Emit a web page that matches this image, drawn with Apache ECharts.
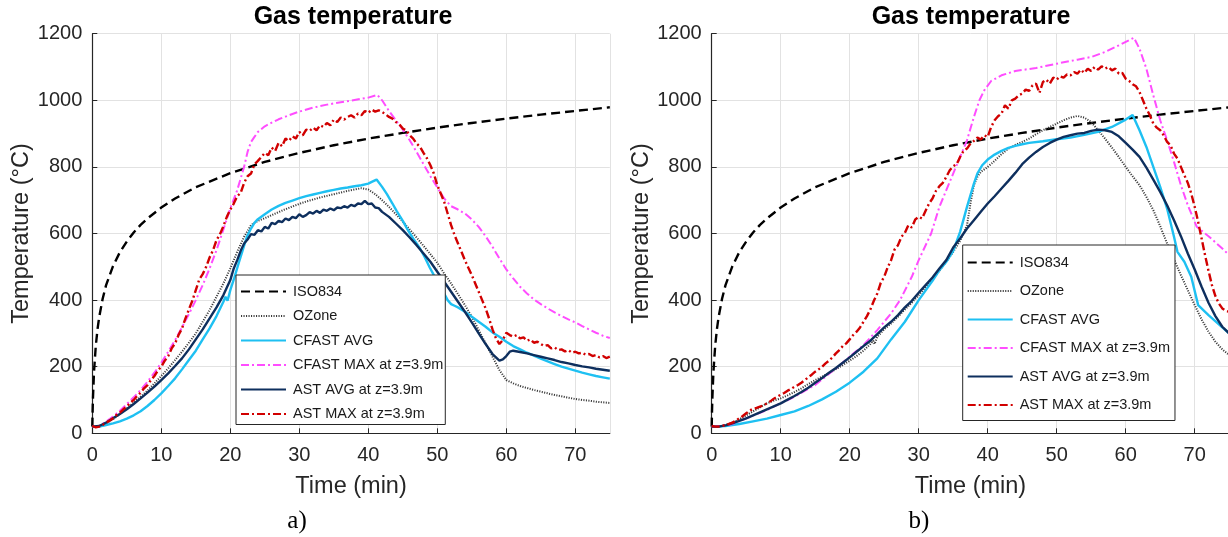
<!DOCTYPE html>
<html><head><meta charset="utf-8">
<script src="https://cdn.jsdelivr.net/npm/echarts@6/dist/echarts.min.js"></script>
<style>html,body{margin:0;padding:0;background:#fff}#c{width:1228px;height:537px}</style>
</head><body><div id="c"></div>
<script>
// ---------- data (time in min, temperature in °C) ----------
const seriesNames = ['ISO834','OZone','CFAST AVG','CFAST MAX at z=3.9m','AST AVG at z=3.9m','AST MAX at z=3.9m'];
const xTicks = [0,10,20,30,40,50,60,70];
const yTicks = [0,200,400,600,800,1000,1200];
const xMax = 75;

const iso834 = [[0,20],[0.05,70],[0.1,108],[0.25,185],[0.5,261],[0.75,312],[1,349],[1.5,404],[2,445],[3,502],[4,544],[5,576],[6,603],[7,626],[8,645],[10,678],[12,705],[15,739],[20,781],[25,815],[30,842],[35,865],[40,885],[45,902],[50,918],[55,932],[60,945],[65,957],[70,968],[75,979]];

// ----- plot a) -----
const a_ozone = [[0,20],[1,22],[2,30],[3,42],[4,58],[5,75],[6,92],[7,110],[8,128],[9,150],[10,172],[11,195],[12,220],[13,245],[14,272],[15,300],[16,335],[17,370],[18,410],[19,450],[20,495],[21,545],[22,590],[23,625],[23.5,632],[24,638],[25,646],[26,655],[27,664],[28,673],[29,681],[30,689],[31,696],[32,702],[33,708],[34,713],[35,718],[36,723],[37,728],[38,732],[39,736],[40,732],[41,718],[42,700],[43,680],[44,658],[45,636],[46,612],[47,588],[48,563],[49,538],[50,512],[51,480],[52,450],[53,418],[54,385],[55,350],[56,310],[57,270],[58,230],[59,190],[60,160],[61,150],[62,142],[63,136],[64,130],[65,125],[66,120],[67,115],[68,111],[69,107],[70,103],[71,100],[72,98],[73,95],[74,93],[75,91]];
const a_cfastAvg = [[0,20],[1,20],[2,25],[3,30],[4,36],[5,44],[6,54],[7,66],[8,82],[9,100],[10,120],[11,142],[12,165],[13,192],[14,220],[15,248],[16,282],[17,315],[18,352],[19,395],[19.3,410],[19.6,398],[20,430],[20.6,468],[21.2,510],[21.8,550],[22.4,590],[23,615],[23.5,632],[24,643],[25,658],[26,672],[27,683],[28,692],[29,699],[30,706],[31,712],[32,717],[33,722],[34,727],[35,731],[36,735],[37,738],[38,742],[39,745],[40,750],[40.5,755],[41.2,762],[42,740],[42.7,718],[43.5,690],[44.1,668],[45,638],[45.6,615],[46.5,585],[47.5,555],[48.2,528],[48.9,498],[49.5,475],[50,462],[50.5,440],[51,420],[51.5,400],[52,388],[52.5,383],[53,378],[54,365],[55,350],[56,335],[57,320],[58,303],[59,290],[60,275],[61,262],[62,252],[63,242],[64,233],[65,224],[66,216],[67,208],[68,200],[69,194],[70,188],[71,182],[72,177],[73,172],[74,168],[75,164]];
const a_cfastMax = [[0,20],[1,22],[2,35],[3,50],[4,68],[5,88],[6,108],[7,130],[8,155],[9,182],[10,212],[11,245],[12,280],[13,318],[14,358],[15,400],[16,445],[17,495],[18,550],[19,612],[20,675],[21,730],[22,800],[22.5,845],[23,875],[23.5,890],[24,905],[25,922],[26,933],[27,943],[28,951],[29,959],[30,966],[32,978],[34,987],[36,994],[38,1001],[40,1008],[41.3,1016],[42,1000],[43,968],[44,940],[45,912],[46,880],[47,845],[48,808],[49,772],[50,738],[51,705],[52,682],[53,672],[54,660],[55,642],[56,620],[57,592],[58,560],[59,525],[60,492],[61,465],[62,440],[63,420],[64,402],[65,388],[66,375],[67,363],[68,352],[69,342],[70,333],[71,322],[72,312],[73,302],[74,293],[75,286]];
const a_astAvg = [[0,20],[1,22],[2,32],[3,45],[4,58],[5,72],[6,88],[7,105],[8,122],[9,140],[10,160],[11,180],[12,202],[13,225],[14,252],[15,282],[16,312],[17,345],[18,378],[19,415],[20,460],[20.5,495],[21,520],[21.5,548],[22,570],[22.5,582],[23,598],[23.5,596],[24,610],[24.5,606],[25,620],[25.5,615],[26,632],[26.5,628],[27,638],[27.5,634],[28,645],[28.5,640],[29,650],[29.5,646],[30,658],[30.5,650],[31,655],[31.5,664],[32,660],[32.5,668],[33,662],[33.5,672],[34,668],[34.5,675],[35,670],[35.5,678],[36,676],[36.5,682],[37,678],[37.5,686],[38,682],[38.5,690],[39,688],[39.5,698],[40,688],[40.5,690],[41,678],[41.5,676],[42,665],[43,650],[44,630],[45,610],[46,588],[47,565],[48,540],[49,515],[50,485],[51,455],[52,425],[53,395],[54,365],[55,333],[56,300],[57,268],[58,238],[59,218],[59.5,222],[60,232],[60.5,245],[61,248],[62,244],[63,240],[64,235],[65,230],[66,225],[67,220],[68,214],[69,210],[70,205],[71,201],[72,198],[73,194],[74,191],[75,188]];
const a_astMax = [[0,22],[0.5,18],[1,20],[1.5,25],[2,32],[2.5,38],[3,45],[3.5,55],[4,62],[4.5,72],[5,80],[5.5,92],[6,100],[6.5,112],[7,122],[7.5,135],[8,145],[8.5,160],[9,172],[9.5,188],[10,200],[10.5,218],[11,232],[11.5,255],[12,270],[12.5,295],[13,315],[13.5,345],[14,372],[14.5,398],[15,430],[15.5,462],[16,478],[16.5,500],[17,528],[17.5,550],[18,580],[18.5,598],[19,622],[19.5,650],[20,672],[20.5,690],[21,712],[21.5,722],[22,752],[22.5,772],[23,780],[23.5,808],[24,818],[24.5,830],[25,842],[25.5,835],[26,858],[26.5,848],[27,872],[27.5,862],[28,885],[28.5,878],[29,892],[29.5,885],[30,905],[30.5,895],[31,912],[31.5,908],[32,918],[32.5,910],[33,925],[33.5,920],[34,932],[34.5,925],[35,942],[35.5,935],[36,948],[36.5,942],[37,950],[37.5,955],[38,948],[38.5,960],[39,955],[39.5,968],[40,962],[40.5,972],[41,966],[41.5,970],[42,965],[42.5,958],[43,950],[43.5,945],[44,935],[44.5,928],[45,915],[45.5,910],[46,895],[46.5,885],[47,870],[47.5,860],[48,842],[48.5,826],[49,805],[49.5,780],[50,745],[50.5,720],[51,695],[51.5,660],[52,625],[52.5,595],[53,570],[53.5,545],[54,520],[54.5,497],[55,475],[55.5,450],[56,425],[56.5,400],[57,375],[57.5,345],[58,312],[58.5,285],[59,268],[59.5,280],[60,302],[60.5,295],[61,290],[61.5,295],[62,285],[62.5,288],[63,278],[63.5,282],[64,272],[64.5,275],[65,268],[65.5,262],[66,265],[66.5,255],[67,258],[67.5,250],[68,252],[68.5,246],[69,250],[69.5,242],[70,245],[70.5,240],[71,242],[71.5,236],[72,238],[72.5,232],[73,235],[73.5,228],[74,232],[74.5,226],[75,230]];

// ----- plot b) -----
const b_ozone = [[0,20],[1,20],[2,25],[3,32],[4,42],[5,54],[6,66],[7,78],[8,90],[9,98],[10,105],[11,114],[12,124],[13,135],[14,148],[15,160],[16,170],[17,181],[18,193],[19,205],[20,218],[21,232],[22,248],[23,268],[23.4,278],[23.6,268],[24,290],[25,312],[26,330],[27,350],[28,372],[29,392],[30,415],[31,438],[32,462],[33,488],[34,515],[35,545],[36,578],[37,625],[37.5,690],[38,745],[38.5,770],[39,785],[40,800],[41,818],[42,838],[43,855],[44,866],[45,875],[46,885],[47,898],[48,910],[49,920],[50,930],[51,940],[52,948],[53,953],[54,948],[55,935],[56,910],[57,885],[58,858],[59,830],[60,800],[61,772],[62,745],[63,710],[64,670],[65,622],[66,570],[67,522],[68,475],[69,430],[70,385],[71,342],[72,305],[73,275],[74,252],[75,235]];
const b_cfastAvg = [[0,20],[2,22],[4,28],[6,36],[8,44],[10,55],[12,66],[14,82],[16,102],[18,125],[20,152],[22,185],[24,225],[26,282],[28,335],[30,400],[32,458],[33,490],[34,515],[35,548],[36,605],[37,680],[38,750],[38.5,780],[39.2,805],[40,822],[41,837],[42,848],[43,857],[44,863],[45,868],[46,872],[48,877],[50,883],[52,888],[54,896],[56,905],[58,920],[60,942],[61,956],[62,910],[63,860],[64,800],[65,740],[66,675],[67,590],[67.5,545],[68.5,515],[69.5,470],[70.5,385],[72,355],[74,318],[75,300]];
const b_cfastMax = [[0,20],[2,24],[3,28],[5,45],[8,70],[10,90],[12,110],[15,145],[18,195],[20,230],[22,265],[24,310],[26,360],[27.3,400],[29,470],[30,520],[31.8,600],[33,680],[34,730],[35.6,810],[37,880],[38,950],[38.8,1000],[39.5,1030],[40.5,1058],[42,1075],[44,1088],[47,1097],[50,1110],[53,1122],[55,1130],[57,1145],[59,1165],[61.2,1188],[62,1155],[63,1095],[64,1015],[65,940],[66,880],[67,815],[68,745],[69,685],[70.3,620],[72,592],[74,555],[75,535]];
const b_astAvg = [[0,20],[1,20],[2,24],[3,30],[4,37],[5,45],[6,54],[7,63],[8,72],[9,81],[10,90],[11,101],[12,112],[13,124],[14,137],[15,152],[16,166],[17,182],[18,196],[19,212],[20,228],[21,245],[22,262],[23,278],[24,298],[25,318],[26,335],[27,355],[28,378],[29,398],[30,422],[31,445],[32,468],[33,495],[34,520],[35,558],[36,585],[37,615],[38,640],[39,665],[40,690],[41,712],[42,735],[43,758],[44,782],[45,808],[46,828],[47,845],[48,860],[49,872],[50,882],[51,890],[52,895],[53,900],[54,902],[55,908],[56,912],[57,910],[58,905],[59,892],[60,872],[61,852],[62,830],[63,798],[64,762],[65,725],[66,685],[67,640],[68,592],[69,540],[70,492],[71,440],[72,392],[73,352],[74,320],[75,300]];
const b_astMax = [[0,22],[0.5,20],[1,20],[1.5,22],[2,25],[2.5,28],[3,32],[3.5,38],[4,45],[4.5,52],[5,60],[5.5,68],[6,74],[6.5,76],[7,80],[7.5,84],[8,90],[8.5,96],[9,104],[9.5,110],[10,116],[10.5,121],[11,128],[11.5,133],[12,140],[12.5,145],[13,152],[13.5,160],[14,168],[14.5,176],[15,185],[15.5,192],[16,200],[16.5,210],[17,218],[17.5,228],[18,240],[18.5,250],[19,262],[19.5,270],[20,282],[20.5,295],[21,305],[21.5,318],[22,335],[22.5,352],[23,372],[23.5,398],[24,420],[24.5,452],[25,470],[25.5,498],[26,520],[26.5,552],[27,565],[27.5,590],[28,602],[28.5,625],[29,618],[29.5,642],[30,650],[30.5,645],[31,668],[31.5,690],[32,705],[32.5,728],[33,742],[33.5,752],[34,770],[34.5,790],[35,802],[35.5,808],[36,830],[36.5,848],[37,855],[37.5,870],[38,878],[38.5,888],[39,882],[39.5,895],[40,890],[40.5,920],[41,940],[41.5,952],[42,960],[42.5,985],[43,975],[43.5,1000],[44,1005],[44.5,1015],[45,1020],[45.5,1032],[46,1028],[46.5,1045],[47,1050],[47.5,1022],[48,1055],[48.5,1062],[49,1050],[49.5,1068],[50,1062],[50.5,1072],[51,1068],[51.5,1078],[52,1075],[52.5,1085],[53,1080],[53.5,1092],[54,1082],[54.5,1095],[55,1088],[55.5,1100],[56,1092],[56.5,1102],[57,1095],[57.5,1100],[58,1090],[58.5,1095],[59,1080],[59.5,1082],[60,1065],[60.5,1058],[61,1048],[61.5,1042],[62,1025],[62.5,1000],[63,975],[63.5,955],[64,930],[64.5,918],[65,910],[65.5,895],[66,875],[66.5,865],[67,840],[67.5,825],[68,800],[68.5,775],[69,752],[69.5,720],[70,680],[70.5,635],[71,585],[71.5,535],[72,488],[72.5,445],[73,412],[73.5,390],[74,375],[74.5,368],[75,365]];

const plotA = [iso834, a_ozone, a_cfastAvg, a_cfastMax, a_astAvg, a_astMax];
const plotB = [iso834, b_ozone, b_cfastAvg, b_cfastMax, b_astAvg, b_astMax];

// ---------- styling ----------
const lineStyles = [
  {color:'#000000', width:2.4, type:[9,5]},
  {color:'#3a3a3a', width:2,   type:[1.1,1.4]},
  {color:'#1ec0f2', width:2.4, type:'solid'},
  {color:'#ff4dff', width:2,   type:[8,3,2,3]},
  {color:'#0e2f5e', width:2.4, type:'solid'},
  {color:'#d10000', width:2.4, type:[8,3,2,3]}
];
const FONT = 'Liberation Sans';
const axisColor = '#262626';
const gridColor = '#e2e2e2';

const grids = [
  {left:92.3, top:33.7, width:517.5, height:399.6},
  {left:711.7, top:33.7, width:517.5, height:399.6}
];

function xAxisFor(i){
  return {
    type:'value', gridIndex:i, min:xTicks[0], max:xMax, interval:xTicks[1]-xTicks[0],
    name:'Time (min)', nameLocation:'middle', nameGap:41,
    nameTextStyle:{fontSize:23.5, color:axisColor, fontFamily:FONT},
    axisLine:{show:true, onZero:false, lineStyle:{color:axisColor, width:1.2}},
    axisTick:{show:true, inside:true, length:5, lineStyle:{color:axisColor}},
    axisLabel:{fontSize:20, color:axisColor, margin:12, fontFamily:FONT, showMaxLabel:false, formatter:v => String(v)},
    splitLine:{show:true, lineStyle:{color:gridColor, width:1}}
  };
}
function yAxisFor(i){
  return {
    type:'value', gridIndex:i, min:yTicks[0], max:yTicks[yTicks.length-1], interval:yTicks[1]-yTicks[0],
    name:'Temperature (°C)', nameLocation:'middle', nameGap:57,
    nameTextStyle:{fontSize:23.5, color:axisColor, fontFamily:FONT},
    axisLine:{show:true, lineStyle:{color:axisColor, width:1.2}},
    axisTick:{show:true, inside:true, length:5, lineStyle:{color:axisColor}},
    axisLabel:{fontSize:20, color:axisColor, margin:10, fontFamily:FONT, formatter:v => String(v)},
    splitLine:{show:true, lineStyle:{color:gridColor, width:1}}
  };
}

const series = [];
[plotA, plotB].forEach((plot, gi) => {
  plot.forEach((data, si) => {
    const st = lineStyles[si];
    series.push({
      type:'line', name:seriesNames[si], xAxisIndex:gi, yAxisIndex:gi,
      data:data, showSymbol:false, symbol:'none', smooth:false, clip:true,
      color:st.color, lineStyle:{color:st.color, width:st.width, type:st.type, cap:'butt'},
      emphasis:{disabled:true}, z:2+si*0.01
    });
  });
});

function legendFor(left, top, gap, padding){
  return {
    orient:'vertical', left:left, top:top, data:seriesNames,
    itemWidth:45, itemHeight:14, itemGap:gap, padding:padding,
    backgroundColor:'#ffffff', borderColor:'#262626', borderWidth:1, borderRadius:0,
    selectedMode:false, itemStyle:{opacity:0},
    textStyle:{fontSize:14.5, color:'#1a1a1a', fontFamily:FONT, padding:[0,0,0,2]},
    z:10
  };
}

const titleStyle = {fontSize:25, fontWeight:'bold', color:'#000', fontFamily:FONT};
const panelStyle = {fontSize:25, fontWeight:'normal', color:'#000', fontFamily:'Liberation Serif'};

const option = {
  animation:false,
  backgroundColor:'#ffffff',
  textStyle:{fontFamily:FONT},
  title:[
    {text:'Gas temperature', left:353, top:5, padding:0, textAlign:'center', textStyle:titleStyle},
    {text:'Gas temperature', left:971, top:5, padding:0, textAlign:'center', textStyle:titleStyle},
    {text:'a)', left:297, top:509, padding:0, textAlign:'center', textStyle:panelStyle},
    {text:'b)', left:919, top:509, padding:0, textAlign:'center', textStyle:panelStyle}
  ],
  grid:grids.map(g => Object.assign({containLabel:false, outerBoundsMode:'none'}, g)),
  xAxis:[xAxisFor(0), xAxisFor(1)],
  yAxis:[yAxisFor(0), yAxisFor(1)],
  legend:[legendFor(236, 275, 9.5, [9,2,3,4]), legendFor(962.7, 245, 13.5, [10,5,8,4])],
  series:series
};

const chart = echarts.init(document.getElementById('c'), null, {renderer:'canvas', width:1228, height:537});
chart.setOption(option);
</script></body></html>
